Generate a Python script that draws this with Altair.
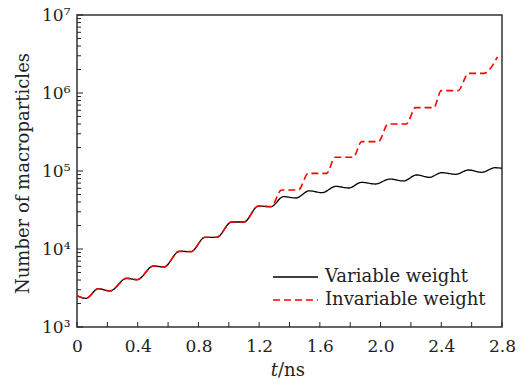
import altair as alt
import pandas as pd

# ---- data ----
t_var = [0.0, 0.06, 0.14, 0.217, 0.327, 0.397, 0.503, 0.573, 0.674, 0.751,
         0.843, 0.92, 1.019, 1.10, 1.195, 1.278, 1.36, 1.443, 1.53, 1.615,
         1.705, 1.79, 1.875, 1.965, 2.062, 2.15, 2.238, 2.321, 2.402, 2.497,
         2.578, 2.666, 2.754, 2.80]
n_var = [2518, 2333, 3097, 2897, 4207, 4046, 6053, 5875, 9333, 9247,
         14125, 14125, 22182, 22182, 35563, 34914, 46881, 45082, 55719, 52723,
         63533, 60534, 71614, 68077, 78886, 74473, 88920, 82985, 95060, 90782,
         103039, 96161, 110154, 108393]

t_inv = [0.0, 0.06, 0.14, 0.217, 0.327, 0.397, 0.503, 0.573, 0.674, 0.751,
         0.843, 0.92, 1.019, 1.10, 1.195, 1.278, 1.348, 1.458, 1.524, 1.645,
         1.70, 1.82, 1.875, 1.985, 2.05, 2.17, 2.23, 2.35, 2.40, 2.51,
         2.58, 2.68, 2.77]
n_inv = [2518, 2333, 3097, 2897, 4207, 4046, 6053, 5875, 9333, 9247,
         14125, 14125, 22182, 22182, 35563, 34914, 57016, 57016, 93325, 93325,
         149968, 149968, 237684, 237684, 400867, 400867, 648634, 648634, 1071519, 1071519,
         1786488, 1786488, 2900000]

series = ["Variable weight", "Invariable weight"]
colors = ["black", "red"]
dashes = [[1, 0], [7, 4]]

x_labels = [0, 0.4, 0.8, 1.2, 1.6, 2.0, 2.4, 2.8]
x_minor = [0, 0.2, 0.4, 0.6, 0.8, 1.0, 1.2, 1.4, 1.6, 1.8, 2.0, 2.2, 2.4, 2.6, 2.8]
y_major = [1e3, 1e4, 1e5, 1e6, 1e7]
y_minor = [k * 10 ** d for d in range(3, 7) for k in range(2, 10)]

FONT = "DejaVu Serif"
TXT = "#222"
W, H = 425, 312

df = pd.concat([
    pd.DataFrame({"t": t_var, "n": n_var, "s": series[0]}),
    pd.DataFrame({"t": t_inv, "n": n_inv, "s": series[1]}),
])

xscale = alt.Scale(domain=[0, 2.8], nice=False, zero=False)
yscale = alt.Scale(type="log", domain=[1e3, 1e7], nice=False)

label_expr = ("datum.value == 1000 ? '10³' : datum.value == 10000 ? '10⁴' : "
              "datum.value == 100000 ? '10⁵' : datum.value == 1000000 ? '10⁶' : '10⁷'")

x_axis = alt.Axis(values=x_labels, ticks=False, tickSize=0, domain=False,
                  grid=False, title=None, labelFont=FONT, labelFontSize=17,
                  labelColor=TXT, labelPadding=11, labelFlush=False,
                  labelOverlap=False,
                  labelExpr="datum.value == 0 ? '0' : format(datum.value, '.1f')")
y_axis = alt.Axis(values=y_major, ticks=False, tickSize=0, domain=False,
                  grid=False, title="Number of macroparticles",
                  titleFont=FONT, titleFontSize=18, titleFontWeight="normal",
                  titleColor=TXT, titleX=-54, titleY=H / 2 + 2,
                  titleAngle=-90, titleBaseline="middle",
                  labelFont=FONT, labelFontSize=17, labelColor=TXT,
                  labelPadding=7, labelFlush=False, labelOverlap=False,
                  labelExpr=label_expr)

color_enc = alt.Color("s:N", scale=alt.Scale(domain=series, range=colors), legend=None)
dash_enc = alt.StrokeDash("s:N", scale=alt.Scale(domain=series, range=dashes), legend=None)

base = alt.Chart(df)
x_enc = alt.X("t:Q", scale=xscale, axis=x_axis)
y_enc = alt.Y("n:Q", scale=yscale, axis=y_axis)

black = base.transform_filter(alt.datum.s == series[0]).mark_line(
    strokeWidth=1.3, interpolate="monotone").encode(
    x=x_enc, y=y_enc, color=color_enc, strokeDash=dash_enc)
red = base.transform_filter(alt.datum.s == series[1]).mark_line(
    strokeWidth=1.6, interpolate="monotone").encode(
    x=x_enc, y=y_enc, color=color_enc, strokeDash=dash_enc)

ymaj = alt.Chart(pd.DataFrame({"n": y_major})).mark_rule(color=TXT, strokeWidth=1).encode(
    y=alt.Y("n:Q", scale=yscale, axis=y_axis), x=alt.value(0), x2=alt.value(6))
ymin = alt.Chart(pd.DataFrame({"n": y_minor})).mark_rule(color=TXT, strokeWidth=1).encode(
    y=alt.Y("n:Q", scale=yscale, axis=y_axis), x=alt.value(0), x2=alt.value(4))
xt = alt.Chart(pd.DataFrame({"t": x_minor})).mark_rule(color=TXT, strokeWidth=1).encode(
    x=alt.X("t:Q", scale=xscale, axis=x_axis), y=alt.value(H), y2=alt.value(H - 5))

lab = pd.DataFrame({"a": [0]})
t_txt = alt.Chart(lab).mark_text(text="t", font=FONT, fontSize=18, fontStyle="italic",
                                 align="right", baseline="alphabetic", color=TXT).encode(
    x=alt.value(201), y=alt.value(361))
ns_txt = alt.Chart(lab).mark_text(text="/ns", font=FONT, fontSize=18,
                                  align="left", baseline="alphabetic", color=TXT).encode(
    x=alt.value(201), y=alt.value(361))

# manual legend
LX0, LX1, LT = 196, 241, 248
ROWS = [262, 285]
leg_items = []
for i, name in enumerate(series):
    leg_items.append(
        alt.Chart(lab).mark_rule(color=colors[i], strokeWidth=1.5,
                                 strokeDash=dashes[i]).encode(
            x=alt.value(LX0), x2=alt.value(LX1), y=alt.value(ROWS[i])))
    leg_items.append(
        alt.Chart(lab).mark_text(text=name, font=FONT, fontSize=18, color=TXT,
                                 align="left", baseline="middle").encode(
            x=alt.value(LT), y=alt.value(ROWS[i])))

chart = alt.layer(black, red, ymaj, ymin, xt, t_txt, ns_txt, *leg_items).properties(
    width=W, height=H,
    autosize=alt.AutoSizeParams(type="none"),
    padding={"left": 77, "top": 15, "right": 20, "bottom": 56},
    background="white",
).configure_view(stroke="#333", strokeWidth=1.5)

chart.save("out.html", embed_options={"renderer": "svg", "actions": False})
